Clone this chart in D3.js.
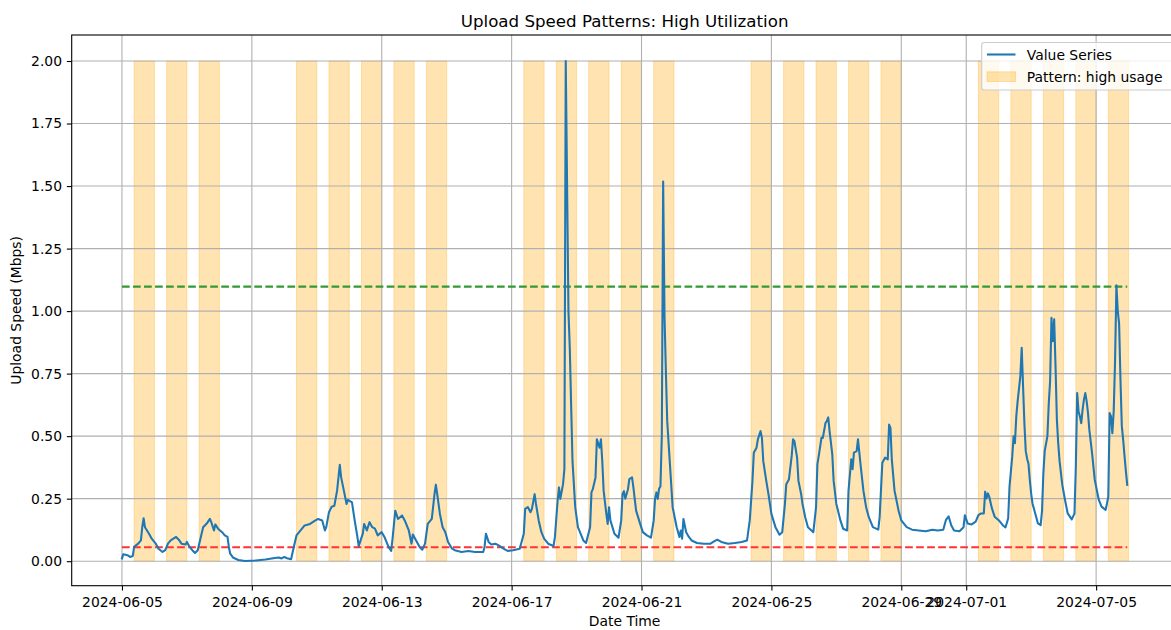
<!DOCTYPE html>
<html><head><meta charset="utf-8">
<script src="https://cdn.jsdelivr.net/npm/d3@7"></script>
<style>
body{margin:0;background:#fff}
svg text{font-family:"DejaVu Sans",sans-serif;fill:#000}
</style>
</head><body>
<svg id="chart" width="1171" height="630"></svg>
<script>
// ---------- data ----------
const startTime = "2024-06-05T00:00:00";
const hourOffsets = [0,1,4,6,8,9,12,14,15,16,17,20,22,25,27,30,32,34,36,38,40,42,44,47,48,50,52,54,56,58,60,63,65,66,68,69,71,74,76,78,79,80,82,86,91,99,106,113,116,118,120,122,125,127,129,132,135,139,143,145,148,150,151,153,155,157,159,161,162,164,166,167,170,172,174,175,178,179,181,183,185,187,189,192,194,197,199,200,202,204,207,209,212,214,215,218,220,222,224,226,229,231,232,233,235,237,239,241,244,246,251,256,261,267,268,269,271,273,276,279,282,285,289,294,297,298,300,302,303,305,306,308,310,312,315,319,320,322,323,324,326,327,328,330,331,332,333,335,337,341,343,346,347,348,350,351,353,354,355,356,358,359,360,361,364,367,369,370,371,372,374,375,377,378,380,383,385,388,391,393,394,395,396,397,398,399,400,401,402,403,405,407,410,412,413,414,415,417,419,421,425,430,435,437,440,443,448,453,458,462,464,466,467,469,470,472,473,474,476,477,478,480,483,486,488,490,491,493,495,496,497,499,500,502,503,505,507,511,513,514,515,517,518,520,521,522,523,525,526,528,531,533,536,537,539,540,541,543,544,545,546,548,550,552,555,559,560,562,564,566,567,568,569,571,574,576,580,584,589,594,599,603,607,609,611,613,615,619,622,623,625,628,631,633,635,637,638,639,640,641,643,645,648,651,653,655,656,658,659,660,661,662,664,665,666,667,668,669,670,671,672,673,675,677,679,680,681,682,683,684,685,686,687,688,689,690,691,692,693,695,697,699,702,704,705,706,707,708,709,710,711,712,713,714,715,717,719,722,724,727,728,729,730,731,732,733,734,735,736,737,738,739,740,741,742,743];
const values = [0.011,0.028,0.024,0.017,0.021,0.057,0.07,0.083,0.136,0.172,0.136,0.11,0.09,0.07,0.05,0.037,0.044,0.07,0.083,0.09,0.097,0.086,0.07,0.067,0.077,0.057,0.044,0.033,0.044,0.09,0.136,0.153,0.169,0.156,0.123,0.147,0.13,0.116,0.103,0.097,0.057,0.03,0.015,0.005,0.001,0.003,0.007,0.013,0.015,0.011,0.017,0.012,0.008,0.057,0.103,0.123,0.143,0.149,0.163,0.169,0.163,0.123,0.136,0.196,0.218,0.222,0.282,0.385,0.335,0.282,0.229,0.245,0.235,0.163,0.097,0.06,0.11,0.149,0.123,0.156,0.136,0.13,0.103,0.116,0.097,0.057,0.041,0.09,0.202,0.169,0.183,0.163,0.123,0.07,0.107,0.077,0.057,0.046,0.07,0.149,0.169,0.268,0.306,0.268,0.189,0.136,0.116,0.077,0.05,0.044,0.037,0.041,0.037,0.037,0.057,0.11,0.077,0.067,0.07,0.061,0.05,0.041,0.044,0.05,0.11,0.209,0.216,0.196,0.209,0.268,0.229,0.163,0.116,0.09,0.07,0.061,0.097,0.242,0.295,0.249,0.308,0.368,2.0,1.0,0.85,0.62,0.4,0.216,0.136,0.083,0.073,0.136,0.275,0.288,0.335,0.487,0.454,0.487,0.4,0.282,0.189,0.149,0.216,0.163,0.11,0.094,0.163,0.27,0.28,0.25,0.288,0.328,0.335,0.295,0.202,0.149,0.116,0.103,0.094,0.163,0.249,0.275,0.249,0.29,0.3,0.5,1.518,0.98,0.76,0.56,0.388,0.216,0.136,0.097,0.123,0.09,0.169,0.116,0.097,0.083,0.073,0.07,0.07,0.077,0.086,0.077,0.07,0.073,0.077,0.083,0.163,0.321,0.434,0.454,0.487,0.52,0.493,0.4,0.328,0.295,0.262,0.189,0.136,0.106,0.116,0.229,0.308,0.328,0.421,0.487,0.48,0.414,0.321,0.268,0.229,0.176,0.136,0.116,0.216,0.388,0.421,0.493,0.493,0.553,0.56,0.575,0.52,0.427,0.321,0.229,0.163,0.13,0.123,0.282,0.407,0.368,0.434,0.44,0.487,0.434,0.381,0.282,0.216,0.176,0.136,0.126,0.176,0.394,0.414,0.407,0.546,0.533,0.407,0.282,0.202,0.163,0.136,0.126,0.123,0.12,0.126,0.123,0.126,0.165,0.179,0.143,0.123,0.12,0.136,0.184,0.151,0.147,0.158,0.184,0.191,0.191,0.278,0.251,0.271,0.258,0.211,0.178,0.164,0.144,0.135,0.171,0.298,0.418,0.499,0.472,0.579,0.64,0.74,0.853,0.7,0.55,0.44,0.41,0.39,0.325,0.27,0.23,0.191,0.151,0.144,0.2,0.35,0.44,0.47,0.5,0.63,0.72,0.973,0.88,0.967,0.78,0.566,0.47,0.4,0.305,0.245,0.191,0.167,0.19,0.378,0.672,0.6,0.579,0.552,0.606,0.646,0.672,0.64,0.592,0.525,0.432,0.325,0.245,0.218,0.205,0.23,0.258,0.592,0.579,0.512,0.6,0.8,1.103,1.0,0.95,0.726,0.54,0.485,0.42,0.36,0.305];
const highUsageDays = ["2024-06-05","2024-06-06","2024-06-07","2024-06-10","2024-06-11","2024-06-12","2024-06-13","2024-06-14","2024-06-17","2024-06-18","2024-06-19","2024-06-20","2024-06-21","2024-06-24","2024-06-25","2024-06-26","2024-06-27","2024-06-28","2024-07-01","2024-07-02","2024-07-03","2024-07-04","2024-07-05"];
const highUsageStartHour = 9;
const highUsageEndHour = 24;
const highUsageTop = 2.0;
const upperThreshold = 1.098;
const lowerThreshold = 0.056;
const xTickLabels = ["2024-06-05","2024-06-09","2024-06-13","2024-06-17","2024-06-21","2024-06-25","2024-06-29","2024-07-01","2024-07-05"];
const yTickValues = [0,0.25,0.5,0.75,1.0,1.25,1.5,1.75,2.0];
const titleText = "Upload Speed Patterns: High Utilization";
const xLabelText = "Date Time";
const yLabelText = "Upload Speed (Mbps)";
const legendLabels = ["Value Series","Pattern: high usage"];

// ---------- build ----------
const HOUR = 3600e3;
const parseT = d3.timeParse("%Y-%m-%dT%H:%M:%S");
const parseD = d3.timeParse("%Y-%m-%d");
const t0 = parseT(startTime);
const series = hourOffsets.map((h,i)=>({t:new Date(t0.getTime()+h*HOUR), v:values[i]}));
const lastT = series[series.length-1].t;
const span = lastT - t0;

const L=71.7, R=1177.5, T=35, B=585.7;
const x = d3.scaleTime().domain([new Date(t0.getTime()-0.05*span), new Date(lastT.getTime()+0.05*span)]).range([L,R]);
const y = d3.scaleLinear().domain([-0.098,2.104]).range([B,T]);

const svg = d3.select("#chart");
svg.append("rect").attr("width",1171).attr("height",630).attr("fill","#fff");

// bands
const bands = highUsageDays.map(d=>{const s=parseD(d);return {a:new Date(s.getTime()+highUsageStartHour*HOUR), b:new Date(s.getTime()+highUsageEndHour*HOUR)};});
svg.append("g").selectAll("rect").data(bands).join("rect")
  .attr("x",d=>x(d.a)).attr("width",d=>x(d.b)-x(d.a))
  .attr("y",y(highUsageTop)).attr("height",y(0)-y(highUsageTop))
  .attr("fill","#FFA500").attr("fill-opacity",0.3)
  .attr("stroke","#FFA500").attr("stroke-opacity",0.3).attr("stroke-width",1);

// grid
const xTickDates = xTickLabels.map(parseD);
const grid = svg.append("g").attr("stroke","#b0b0b0").attr("stroke-width",1.1);
grid.selectAll("line.gx").data(xTickDates).join("line").attr("class","gx")
  .attr("x1",d=>x(d)).attr("x2",d=>x(d)).attr("y1",T).attr("y2",B);
grid.selectAll("line.gy").data(yTickValues).join("line").attr("class","gy")
  .attr("x1",L).attr("x2",R).attr("y1",d=>y(d)).attr("y2",d=>y(d));

// threshold lines (span data range)
const thr = [{v:upperThreshold,c:"#339933"},{v:lowerThreshold,c:"#ff3333"}];
svg.append("g").selectAll("line").data(thr).join("line")
  .attr("x1",x(t0)).attr("x2",x(lastT)).attr("y1",d=>y(d.v)).attr("y2",d=>y(d.v))
  .attr("stroke",d=>d.c).attr("stroke-width",2.08).attr("stroke-dasharray","7.7,3.33");

// series line
svg.append("path").datum(series)
  .attr("d",d3.line().x(d=>x(d.t)).y(d=>y(d.v)))
  .attr("fill","none").attr("stroke","#1f77b4").attr("stroke-width",2.08)
  .attr("stroke-linejoin","round").attr("stroke-linecap","square");

// axes
const fmt = d3.timeFormat("%Y-%m-%d");
const xAxis = svg.append("g").attr("transform",`translate(0,${B})`)
  .call(d3.axisBottom(x).tickValues(xTickDates).tickFormat(fmt).tickSize(4.86).tickPadding(6.3));
const yAxis = svg.append("g").attr("transform",`translate(${L},0)`)
  .call(d3.axisLeft(y).tickValues(yTickValues).tickFormat(d3.format(".2f")).tickSize(4.86).tickPadding(4.86));
[xAxis,yAxis].forEach(g=>{
  g.select(".domain").remove();
  g.selectAll(".tick line").attr("stroke","#000").attr("stroke-width",1.1);
  g.selectAll(".tick text").attr("font-size","13.9px").attr("font-family","DejaVu Sans").attr("fill","#000");
});

// spines
const sp = svg.append("g").attr("stroke","#000").attr("stroke-width",1.1).attr("fill","none");
sp.append("rect").attr("x",L).attr("y",T).attr("width",R-L).attr("height",B-T);

// labels
svg.append("text").attr("x",(L+R)/2).attr("y",26.7).attr("text-anchor","middle").attr("font-size","16.67px").text(titleText);
svg.append("text").attr("x",(L+R)/2).attr("y",626).attr("text-anchor","middle").attr("font-size","13.9px").text(xLabelText);
svg.append("text").attr("transform",`translate(21,${(T+B)/2}) rotate(-90)`).attr("text-anchor","middle").attr("font-size","13.9px").text(yLabelText);

// legend
const lg = svg.append("g");
const lx0 = 981.7, ly0 = 42.5, lw = 195, lh = 47.5;
lg.append("rect").attr("x",lx0).attr("y",ly0).attr("width",lw).attr("height",lh).attr("rx",2.8)
  .attr("fill","#fff").attr("fill-opacity",0.8).attr("stroke","#cccccc").attr("stroke-width",1.1);
lg.append("line").attr("x1",987).attr("x2",1015.5).attr("y1",54.5).attr("y2",54.5).attr("stroke","#1f77b4").attr("stroke-width",2.08);
lg.append("rect").attr("x",987).attr("y",71.8).attr("width",28.5).attr("height",9.7)
  .attr("fill","#FFA500").attr("fill-opacity",0.3).attr("stroke","#FFA500").attr("stroke-opacity",0.3).attr("stroke-width",1);
lg.selectAll("text").data(legendLabels).join("text")
  .attr("x",1026.8).attr("y",(d,i)=>59.6+i*22.2).attr("font-size","13.9px").text(d=>d);
</script>
</body></html>
